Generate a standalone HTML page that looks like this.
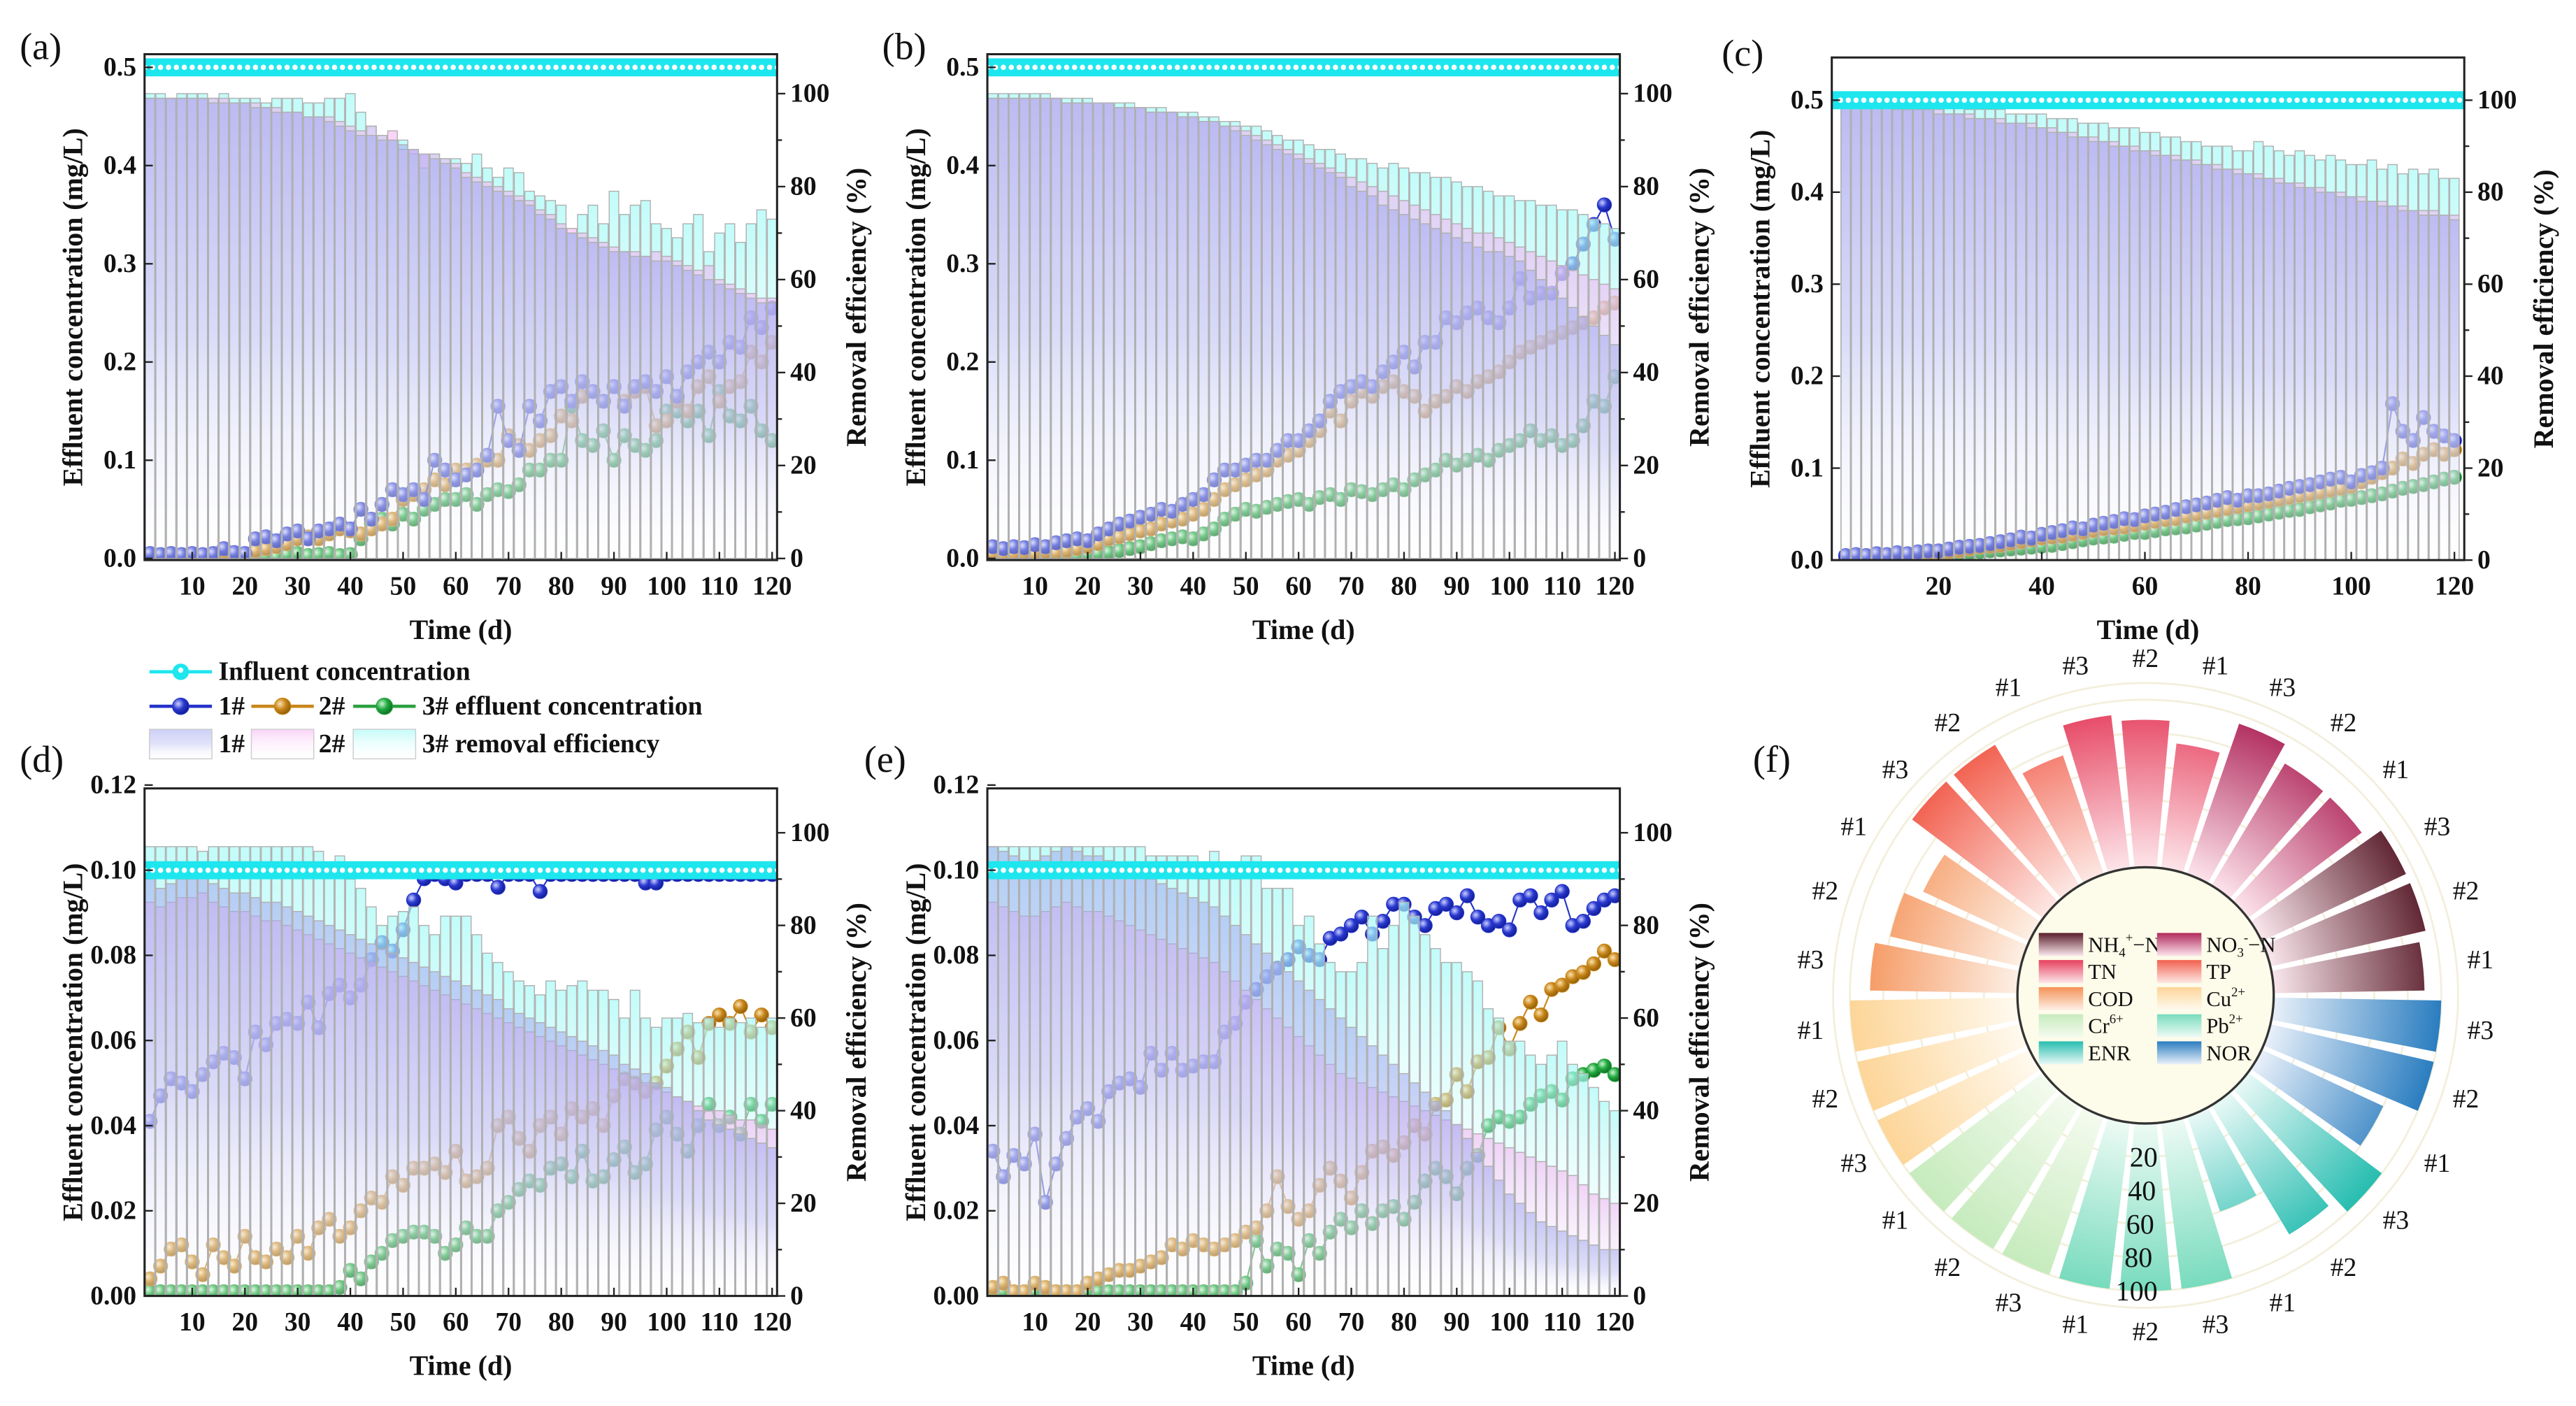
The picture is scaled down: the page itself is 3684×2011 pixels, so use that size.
<!DOCTYPE html>
<html><head><meta charset="utf-8">
<style>
html,body{margin:0;padding:0;background:#fff;}
svg{display:block;}
text{font-family:"Liberation Serif","DejaVu Serif",serif;}
</style></head>
<body>
<svg id="fig" xmlns="http://www.w3.org/2000/svg" width="3684" height="2011" viewBox="0 0 1568 856" preserveAspectRatio="none">
<defs>
<linearGradient id="gBlue" x1="0" y1="0" x2="0" y2="1"><stop offset="0" stop-color="#a2a8f0" stop-opacity="0.55"/><stop offset="0.5" stop-color="#b4b8f2" stop-opacity="0.4"/><stop offset="1" stop-color="#ffffff" stop-opacity="0.1"/></linearGradient>
<linearGradient id="gPink" x1="0" y1="0" x2="0" y2="1"><stop offset="0" stop-color="#f4a8f0" stop-opacity="0.5"/><stop offset="1" stop-color="#ffffff" stop-opacity="0.1"/></linearGradient>
<linearGradient id="gCyan" x1="0" y1="0" x2="0" y2="1"><stop offset="0" stop-color="#a8faf6" stop-opacity="0.7"/><stop offset="1" stop-color="#ffffff" stop-opacity="0.15"/></linearGradient>
<radialGradient id="pBlue" cx="0.35" cy="0.35" r="0.7"><stop offset="0" stop-color="#ccd0ff"/><stop offset="0.5" stop-color="#2a3ad0"/><stop offset="1" stop-color="#101a90"/></radialGradient>
<radialGradient id="pOrange" cx="0.35" cy="0.35" r="0.7"><stop offset="0" stop-color="#fbe3b0"/><stop offset="0.5" stop-color="#c8861a"/><stop offset="1" stop-color="#8a5a08"/></radialGradient>
<radialGradient id="pGreen" cx="0.35" cy="0.35" r="0.7"><stop offset="0" stop-color="#c8f5cf"/><stop offset="0.5" stop-color="#1fa83e"/><stop offset="1" stop-color="#0d6a22"/></radialGradient>
</defs>
<g id="root"></g>
</svg>
<script>
// ---- days (categories) ----
const days = [2,4,6,8,10,12,14,16,18,20,22,24,26,28,30,32,34,36,38,40,42,44,46,48,50,52,54,56,58,60,62,64,66,68,70,72,74,76,78,80,82,84,86,88,90,92,94,96,98,100,102,104,106,108,110,112,114,116,118,120];

// ---- panel (a) ----
const aRe1 = [99,99,99,99,99,99,98,98,98,98,97,97,96,96,96,95,95,94,93,92,91,91,90,90,89,88,87,86,85,84,82,81,80,79,78,77,76,74,73,71,70,69,68,67,66,66,65,65,64,64,63,62,61,60,59,58,57,56,55,55];
const aRe2 = [99,99,99,99,99,99,99,99,98,98,98,97,97,96,96,95,95,95,94,93,92,93,91,92,88,88,87,87,86,85,83,82,81,80,79,78,77,75,74,72,71,70,69,68,67,66,66,65,66,65,64,63,62,63,60,59,58,57,56,56];
const aRe3 = [100,100,99,100,100,100,99,100,99,99,99,98,99,99,99,98,98,99,99,100,96,93,91,90,90,87,84,87,86,86,85,87,84,82,84,83,79,78,77,76,70,74,76,72,79,74,76,77,72,71,69,72,74,66,70,72,68,72,75,73];
const aEf1 = [0.005,0.004,0.005,0.004,0.005,0.004,0.005,0.01,0.006,0.005,0.02,0.022,0.018,0.025,0.028,0.02,0.028,0.03,0.035,0.03,0.05,0.04,0.055,0.07,0.065,0.07,0.06,0.1,0.09,0.08,0.085,0.09,0.105,0.155,0.12,0.11,0.155,0.14,0.17,0.175,0.16,0.18,0.17,0.16,0.175,0.155,0.175,0.18,0.17,0.185,0.165,0.19,0.2,0.21,0.2,0.22,0.215,0.245,0.235,0.255];
const aEf2 = [0.003,0.003,0.004,0.003,0.004,0.003,0.004,0.005,0.004,0.004,0.008,0.01,0.012,0.015,0.02,0.022,0.02,0.025,0.03,0.028,0.025,0.03,0.035,0.04,0.06,0.065,0.07,0.08,0.075,0.09,0.09,0.095,0.1,0.1,0.125,0.115,0.11,0.12,0.125,0.145,0.14,0.165,0.17,0.16,0.175,0.16,0.17,0.175,0.135,0.14,0.16,0.15,0.175,0.185,0.16,0.175,0.18,0.21,0.2,0.22];
const aEf3 = [0.001,0.001,0.002,0.001,0.002,0.001,0.002,0.001,0.002,0.001,0.002,0.003,0.002,0.004,0.005,0.003,0.004,0.005,0.003,0.004,0.02,0.035,0.04,0.035,0.045,0.04,0.05,0.055,0.06,0.06,0.065,0.055,0.065,0.07,0.068,0.075,0.09,0.09,0.1,0.1,0.155,0.12,0.115,0.13,0.1,0.125,0.115,0.11,0.12,0.15,0.15,0.14,0.15,0.125,0.17,0.145,0.14,0.155,0.13,0.12];

// ---- panel (b) ----
const bRe1 = [99,99,99,99,99,99,99,98,98,98,98,98,97,97,97,96,96,96,95,95,94,94,93,92,91,90,89,88,87,86,85,84,83,82,80,79,78,76,75,74,73,72,71,70,69,68,67,66,66,65,64,62,60,58,56,54,52,50,48,46];
const bRe2 = [99,99,99,99,99,99,99,98,98,98,98,98,97,97,97,96,96,96,95,95,94,94,93,93,92,91,90,89,88,87,86,85,84,83,82,81,80,79,78,77,76,75,74,73,72,71,70,70,69,68,67,66,65,64,63,62,61,60,59,58];
const bRe3 = [100,100,100,100,100,100,99,99,99,99,98,98,98,98,97,97,97,96,96,96,95,95,94,94,93,93,92,91,90,90,89,88,88,87,86,86,85,84,85,84,83,83,82,82,81,80,80,79,78,78,77,77,76,76,75,75,74,73,72,71];
const bEf1 = [0.012,0.01,0.012,0.011,0.014,0.012,0.016,0.018,0.02,0.018,0.025,0.03,0.035,0.038,0.042,0.045,0.05,0.048,0.055,0.06,0.065,0.08,0.09,0.09,0.095,0.1,0.1,0.11,0.12,0.12,0.13,0.14,0.16,0.17,0.175,0.18,0.175,0.19,0.2,0.21,0.195,0.22,0.22,0.245,0.24,0.25,0.255,0.245,0.24,0.255,0.285,0.265,0.27,0.27,0.29,0.3,0.32,0.34,0.36,0.325];
const bEf2 = [0.005,0.004,0.005,0.006,0.005,0.007,0.006,0.008,0.01,0.012,0.015,0.02,0.022,0.025,0.028,0.03,0.035,0.038,0.04,0.045,0.05,0.06,0.07,0.075,0.08,0.085,0.09,0.1,0.105,0.11,0.12,0.13,0.15,0.14,0.16,0.17,0.165,0.175,0.18,0.17,0.165,0.15,0.16,0.165,0.175,0.17,0.18,0.185,0.19,0.2,0.21,0.215,0.22,0.225,0.23,0.235,0.24,0.245,0.255,0.26];
const bEf3 = [0.002,0.002,0.003,0.002,0.003,0.002,0.003,0.004,0.003,0.004,0.005,0.006,0.008,0.01,0.012,0.015,0.018,0.02,0.022,0.02,0.025,0.03,0.04,0.045,0.05,0.048,0.052,0.055,0.058,0.06,0.055,0.062,0.065,0.06,0.07,0.068,0.065,0.07,0.075,0.07,0.08,0.085,0.09,0.1,0.095,0.1,0.105,0.1,0.11,0.115,0.12,0.13,0.12,0.125,0.115,0.12,0.135,0.16,0.155,0.185];

// ---- panel (c) ----
const cRe1 = [99,99,99,99,99,98,98,98,98,97,97,97,96,96,96,95,95,95,94,94,93,93,92,92,91,91,90,90,89,89,88,88,87,87,86,86,85,85,84,84,83,83,82,82,81,81,80,80,79,79,78,78,77,77,76,76,75,75,75,74];
const cRe2 = [100,100,99,99,99,99,98,98,98,98,97,97,97,96,96,96,95,95,95,94,94,93,93,92,92,91,91,90,90,89,89,88,88,87,87,86,86,85,85,84,84,83,83,82,82,81,81,80,80,79,79,78,78,77,77,76,76,76,75,75];
const cRe3 = [100,100,100,100,100,100,99,99,99,99,99,99,98,98,98,98,97,97,97,97,96,96,96,95,95,95,94,94,94,93,93,92,92,91,91,90,90,90,89,89,91,90,89,88,89,88,87,88,87,86,86,87,85,86,84,85,84,85,83,83];
const cEf1 = [0.005,0.006,0.005,0.007,0.006,0.008,0.007,0.009,0.01,0.01,0.012,0.014,0.015,0.016,0.018,0.02,0.022,0.025,0.024,0.028,0.03,0.032,0.035,0.034,0.038,0.04,0.042,0.045,0.044,0.048,0.05,0.052,0.055,0.058,0.06,0.062,0.065,0.068,0.065,0.07,0.07,0.072,0.075,0.078,0.08,0.082,0.085,0.088,0.09,0.085,0.092,0.095,0.1,0.17,0.14,0.13,0.155,0.14,0.135,0.13];
const cEf2 = [0.002,0.003,0.002,0.004,0.003,0.005,0.004,0.006,0.007,0.008,0.009,0.01,0.012,0.014,0.015,0.016,0.018,0.02,0.022,0.024,0.025,0.026,0.028,0.03,0.032,0.034,0.035,0.036,0.038,0.04,0.042,0.044,0.045,0.048,0.05,0.052,0.054,0.056,0.058,0.06,0.062,0.064,0.066,0.068,0.07,0.072,0.074,0.076,0.078,0.08,0.085,0.09,0.095,0.1,0.11,0.105,0.115,0.12,0.115,0.12];
const cEf3 = [0.001,0.002,0.001,0.002,0.002,0.003,0.003,0.004,0.004,0.005,0.006,0.007,0.008,0.009,0.01,0.011,0.012,0.013,0.014,0.015,0.016,0.018,0.02,0.022,0.024,0.025,0.026,0.028,0.03,0.03,0.032,0.034,0.035,0.036,0.038,0.04,0.042,0.044,0.045,0.046,0.048,0.05,0.052,0.054,0.055,0.058,0.06,0.062,0.065,0.066,0.068,0.07,0.072,0.075,0.078,0.08,0.082,0.085,0.088,0.09];

// ---- panel (d) ----
const dRe1 = [90,88,89,90,90,91,89,88,87,87,86,85,85,84,83,82,81,80,79,78,77,76,75,74,73,72,71,70,69,68,67,66,65,64,62,61,60,59,58,57,56,55,54,53,52,50,49,48,46,45,43,42,40,38,37,36,35,34,33,32];
const dRe2 = [85,84,85,86,86,87,85,84,83,83,82,81,81,80,79,78,77,76,75,74,73,72,71,70,69,68,67,66,65,64,63,62,61,60,59,58,57,56,55,54,53,52,51,50,49,48,47,46,45,44,43,42,41,40,40,39,38,38,37,36];
const dRe3 = [97,97,97,97,97,96,97,97,97,97,97,97,97,97,97,97,96,93,95,90,88,84,80,82,83,84,80,78,82,82,82,78,74,72,70,68,67,65,68,66,67,68,66,66,64,60,66,60,58,60,60,61,59,60,58,60,59,60,58,60];
const dEf1 = [0.041,0.047,0.051,0.05,0.048,0.052,0.055,0.057,0.056,0.051,0.062,0.059,0.064,0.065,0.064,0.069,0.063,0.071,0.073,0.07,0.073,0.079,0.083,0.081,0.086,0.093,0.098,0.099,0.098,0.097,0.099,0.099,0.099,0.096,0.099,0.099,0.099,0.095,0.099,0.099,0.099,0.099,0.099,0.099,0.099,0.099,0.099,0.097,0.097,0.099,0.099,0.099,0.099,0.099,0.099,0.099,0.099,0.099,0.099,0.099];
const dEf2 = [0.004,0.007,0.011,0.012,0.008,0.005,0.012,0.009,0.007,0.014,0.009,0.008,0.011,0.009,0.014,0.01,0.016,0.018,0.014,0.016,0.02,0.023,0.022,0.028,0.026,0.03,0.03,0.031,0.029,0.034,0.027,0.028,0.03,0.04,0.042,0.037,0.034,0.04,0.042,0.038,0.044,0.042,0.044,0.04,0.047,0.051,0.05,0.048,0.05,0.054,0.058,0.062,0.056,0.064,0.066,0.064,0.068,0.062,0.066,0.063];
const dEf3 = [0.001,0.001,0.001,0.001,0.001,0.001,0.001,0.001,0.001,0.001,0.001,0.001,0.001,0.001,0.001,0.001,0.001,0.001,0.002,0.006,0.004,0.008,0.01,0.013,0.014,0.015,0.015,0.014,0.01,0.012,0.016,0.014,0.014,0.02,0.022,0.025,0.027,0.026,0.03,0.031,0.028,0.034,0.027,0.028,0.032,0.035,0.029,0.031,0.039,0.042,0.038,0.034,0.04,0.045,0.04,0.042,0.038,0.045,0.041,0.045];

// ---- panel (e) ----
const eRe1 = [97,96,95,94,94,95,96,97,96,95,95,94,93,92,91,90,89,88,87,86,85,84,82,80,78,76,74,72,70,68,66,64,62,60,58,56,54,52,50,48,46,44,42,40,37,34,31,28,25,22,20,18,16,15,14,13,12,11,10,10];
const eRe2 = [85,84,83,82,82,83,84,85,84,83,83,82,81,80,79,78,77,76,75,74,73,72,70,68,66,64,62,60,58,56,54,52,50,48,47,46,45,44,43,42,41,40,39,38,37,36,35,34,33,32,31,30,29,28,27,26,24,22,21,20];
const eRe3 = [97,97,97,97,97,97,97,97,97,97,97,97,97,97,97,95,95,95,95,95,90,96,92,90,95,95,88,88,88,80,82,76,72,70,70,72,82,75,80,85,82,78,75,72,72,70,68,62,60,55,55,52,50,52,55,50,48,45,42,40];
const eEf1 = [0.034,0.028,0.033,0.031,0.038,0.022,0.031,0.037,0.042,0.044,0.041,0.048,0.05,0.051,0.049,0.057,0.053,0.057,0.053,0.054,0.055,0.055,0.062,0.064,0.069,0.072,0.075,0.077,0.079,0.082,0.08,0.079,0.084,0.085,0.087,0.089,0.085,0.088,0.092,0.092,0.089,0.087,0.091,0.092,0.09,0.094,0.089,0.087,0.088,0.086,0.093,0.094,0.09,0.093,0.095,0.087,0.088,0.091,0.093,0.094];
const eEf2 = [0.002,0.003,0.001,0.001,0.003,0.002,0.001,0.001,0.001,0.003,0.004,0.005,0.006,0.006,0.007,0.008,0.009,0.012,0.011,0.013,0.012,0.011,0.012,0.013,0.015,0.016,0.02,0.028,0.021,0.018,0.02,0.026,0.03,0.027,0.023,0.029,0.034,0.035,0.033,0.036,0.04,0.038,0.045,0.046,0.052,0.048,0.055,0.056,0.063,0.058,0.064,0.069,0.066,0.072,0.073,0.075,0.076,0.078,0.081,0.079];
const eEf3 = [0.001,0.001,0.001,0.001,0.001,0.001,0.001,0.001,0.001,0.001,0.001,0.001,0.001,0.001,0.001,0.001,0.001,0.001,0.001,0.001,0.001,0.001,0.001,0.001,0.003,0.013,0.007,0.011,0.01,0.005,0.013,0.01,0.015,0.018,0.016,0.02,0.017,0.02,0.021,0.018,0.022,0.027,0.03,0.028,0.024,0.03,0.033,0.04,0.042,0.041,0.042,0.045,0.047,0.048,0.046,0.051,0.052,0.053,0.054,0.052];

// ---- influent (constant) ----
const inflA = 0.5, inflD = 0.1;

// ---- panel (f) rose ----
const roseCats = ["NH4","NO3","TN","TP","COD","Cu","Cr","Pb","ENR","NOR"];
const roseVals = [[90,95,95],[85,85,95],[75,88,92],[75,98,98],[70,80,88],[100,100,100],[100,100,100],[100,100,100],[60,90,100],[80,100,100]];
const roseTicks = [20,40,60,80,100];

const NS = 'http://www.w3.org/2000/svg';
const root = document.getElementById('root');
const defs = document.querySelector('defs');
function mk(tag, attrs, parent){
  const el = document.createElementNS(NS, tag);
  for (const k in attrs) el.setAttribute(k, attrs[k]);
  (parent||root).appendChild(el);
  return el;
}
function txt(str, attrs, parent){ const t = mk('text', attrs, parent); t.textContent = str; return t; }

function drawPanel(id, cfg, re1, re2, re3, ef1, ef2, ef3, infl){
  const g = mk('g', {});
  
  
  const cp = mk('clipPath', {id:'clip'+id}, defs);
  mk('rect', {x:cfg.fx0, y:cfg.fy0, width:cfg.fx1-cfg.fx0, height:cfg.fy1-cfg.fy0}, cp);
  const plot = mk('g', {'clip-path':'url(#clip'+id+')'}, g);
  const series = [[ef3,'#2aa040','pGreen','3'],[ef2,'#c8861a','pOrange','2'],[ef1,'#2433c8','pBlue','1']];
  series.forEach(s=>{
    const sg = mk('g', {}, plot);
    
    
    const pts = s[0].map((v,i)=>cfg.xd(days[i]).toFixed(2)+','+cfg.yl(v).toFixed(2)).join(' ');
    mk('polyline', {points:pts, fill:'none', stroke:s[1], 'stroke-width':0.9}, sg);
    s[0].forEach((v,i)=>{
      const c = mk('circle', {cx:cfg.xd(days[i]), cy:cfg.yl(v), r:4.3, fill:'url(#'+s[2]+')', stroke:s[1], 'stroke-width':0.5}, sg);
      
      
    });
  });
  const bw = cfg.bw;
  const bars = [[re3,'gCyan','3'],[re2,'gPink','2'],[re1,'gBlue','1']];
  bars.forEach(b=>{
    const bg = mk('g', {}, plot);
    
    
    b[0].forEach((p,i)=>{
      const y = cfg.yr(p);
      const r = mk('rect', {x:cfg.xd(days[i])-bw/2, y:y, width:bw, height:cfg.yr(0)-y, fill:'url(#'+b[1]+')', stroke:'#b0b0b0', 'stroke-width':0.6}, bg);
      
      
    });
  });
  const ig = mk('g', {}, plot);
  
  
  const yi = cfg.yl(infl);
  mk('rect', {x:cfg.fx0, y:yi-5.5, width:cfg.fx1-cfg.fx0, height:11, fill:'#1ee6ee'}, ig);
  for (let d=1; d<=121; d+=1.5){
    mk('circle', {cx:cfg.xd(d), cy:yi, r:1.6, fill:'#ffffff'}, ig);
  }
  const fr = mk('rect', {x:cfg.fx0, y:cfg.fy0, width:cfg.fx1-cfg.fx0, height:cfg.fy1-cfg.fy0, fill:'none', stroke:'#222', 'stroke-width':1.3}, g);
  
  
  const xa = mk('g', {}, g);
  
  
  cfg.xticks.forEach(t=>{
    const x = cfg.xd(t);
    mk('line', {x1:x, x2:x, y1:cfg.fy1, y2:cfg.fy1-5, stroke:'#222', 'stroke-width':1}, xa);
    txt(String(t), {x:x, y:cfg.fy1+21, 'text-anchor':'middle', 'font-size':16, 'font-weight':'bold', fill:'#111'}, xa);
  });
  const ya = mk('g', {}, g);
  
  
  cfg.lticks.forEach(t=>{
    const y = cfg.yl(t);
    mk('line', {x1:cfg.fx0, x2:cfg.fx0+5, y1:y, y2:y, stroke:'#222', 'stroke-width':1}, ya);
    txt(t.toFixed(cfg.ldec), {x:cfg.fx0-5, y:y+5, 'text-anchor':'end', 'font-size':16, 'font-weight':'bold', fill:'#111'}, ya);
  });
  const yb = mk('g', {}, g);
  
  
  [0,20,40,60,80,100].forEach(t=>{
    const y = cfg.yr(t);
    mk('line', {x1:cfg.fx1, x2:cfg.fx1+5, y1:y, y2:y, stroke:'#222', 'stroke-width':1}, yb);
    txt(String(t), {x:cfg.fx1+8, y:y+5, 'font-size':16, 'font-weight':'bold', fill:'#111'}, yb);
  });
  [10,30,50,70,90].forEach(t=>{
    const y = cfg.yr(t);
    mk('line', {x1:cfg.fx1, x2:cfg.fx1+3, y1:y, y2:y, stroke:'#222', 'stroke-width':1}, yb);
  });
  const cx = (cfg.fx0+cfg.fx1)/2, cy = (cfg.fy0+cfg.fy1)/2;
  const xt = txt('Time (d)', {x:cx, y:cfg.fy1+48, 'text-anchor':'middle', 'font-size':17, 'font-weight':'bold', fill:'#111'}, g);
  
  
  const lt = txt('Effluent concentration (mg/L)', {x:0, y:0, 'text-anchor':'middle', 'font-size':17, 'font-weight':'bold', fill:'#111', transform:'translate('+(cfg.fx0-38)+','+cy+') rotate(-90)'}, g);
  
  
  const rt = txt('Removal efficiency (%)', {x:0, y:0, 'text-anchor':'middle', 'font-size':17, 'font-weight':'bold', fill:'#111', transform:'translate('+(cfg.fx1+54)+','+cy+') rotate(-90)'}, g);
  
  
  const pl = txt('('+id+')', {x:cfg.lx, y:cfg.ly, 'font-size':23, fill:'#111'}, g);
  
  
}

function cfgTop(off){ return {fx0:88+off, fx1:473+off, fy0:33, fy1:341, bw:5.8,
  xd:d=>117+off+(d-10)*3.209, yl:v=>340-v*598, yr:p=>340-p*2.83,
  xticks:[10,20,30,40,50,60,70,80,90,100,110,120], lticks:[0,0.1,0.2,0.3,0.4,0.5], ldec:1, lx:12, ly:36}; }
const A = cfgTop(0); A.lx = 12;
const B = cfgTop(513); B.lx = 537;
const C = {fx0:1115, fx1:1500, fy0:35, fy1:341, bw:5.7,
  xd:d=>1180+(d-20)*3.14, yl:v=>341-v*560, yr:p=>341-p*2.8,
  xticks:[20,40,60,80,100,120], lticks:[0,0.1,0.2,0.3,0.4,0.5], ldec:1, lx:1048, ly:40};
function cfgBot(off){ return {fx0:88+off, fx1:473+off, fy0:480, fy1:789, bw:5.8,
  xd:d=>117+off+(d-10)*3.209, yl:v=>789-v*2592, yr:p=>789-p*2.82,
  xticks:[10,20,30,40,50,60,70,80,90,100,110,120], lticks:[0,0.02,0.04,0.06,0.08,0.1,0.12], ldec:2, lx:12, ly:470}; }
const D = cfgBot(0);
const E = cfgBot(513); E.lx = 526;

drawPanel('a', A, aRe1, aRe2, aRe3, aEf1, aEf2, aEf3, inflA);
drawPanel('b', B, bRe1, bRe2, bRe3, bEf1, bEf2, bEf3, inflA);
drawPanel('c', C, cRe1, cRe2, cRe3, cEf1, cEf2, cEf3, inflA);
drawPanel('d', D, dRe1, dRe2, dRe3, dEf1, dEf2, dEf3, inflD);
drawPanel('e', E, eRe1, eRe2, eRe3, eEf1, eEf2, eEf3, inflD);

// ---- legend ----
const lg = mk('g', {});


function lineMark(x0, x1, y, col, grad){
  mk('line', {x1:x0, x2:x1, y1:y, y2:y, stroke:col, 'stroke-width':2}, lg);
  mk('circle', {cx:(x0+x1)/2, cy:y, r:5, fill:grad?('url(#'+grad+')'):col, stroke:col, 'stroke-width':0.5}, lg);
}
const l1 = mk('g', {}, lg);


mk('line', {x1:91, x2:129, y1:409, y2:409, stroke:'#1ee6ee', 'stroke-width':2}, l1);
mk('circle', {cx:110, cy:409, r:5, fill:'#1ee6ee'}, l1);
mk('circle', {cx:110, cy:408, r:1.6, fill:'#fff'}, l1);
txt('Influent concentration', {x:133, y:414, 'font-size':16, 'font-weight':'bold', fill:'#111'}, lg);
lineMark(91,129,430,'#2433c8','pBlue');
txt('1#', {x:133, y:435, 'font-size':16, 'font-weight':'bold', fill:'#111'}, lg);
lineMark(153,191,430,'#c8861a','pOrange');
txt('2#', {x:194, y:435, 'font-size':16, 'font-weight':'bold', fill:'#111'}, lg);
lineMark(215,253,430,'#2aa040','pGreen');
txt('3# effluent concentration', {x:257, y:435, 'font-size':16, 'font-weight':'bold', fill:'#111'}, lg);
[[91,'gBlue','1#',133],[153,'gPink','2#',194],[215,'gCyan','3# removal efficiency',257]].forEach(s=>{
  const r = mk('rect', {x:s[0], y:444, width:38, height:18, fill:'url(#'+s[1]+')', stroke:'#ccc', 'stroke-width':0.6}, lg);
  
  
  txt(s[2], {x:s[3], y:458, 'font-size':16, 'font-weight':'bold', fill:'#111'}, lg);
});

// ---- rose chart (f) ----
const fg = mk('g', {});


const RC = {cx:1306, cy:606, r0:78};
const rr = v => RC.r0 + v*1.02;
const roseOuter = ['#5a1e2c','#b02a5c','#e6405e','#f26150','#f59258','#fdd598','#c6ebbd','#78dbbd','#27bdb0','#2a7dc0'];
const roseInner = ['#fbe8ee','#fde4ec','#fde6ea','#fde8e4','#fdf0e6','#fffaf0','#f4fbef','#eefbf5','#eaf9f7','#eaf1fa'];
roseCats.forEach((c,i)=>{
  const gr = mk('radialGradient', {id:'rg'+i, gradientUnits:'userSpaceOnUse', cx:RC.cx, cy:RC.cy, r:rr(100)}, defs);
  mk('stop', {offset:0.43, 'stop-color':roseInner[i]}, gr);
  mk('stop', {offset:1, 'stop-color':roseOuter[i]}, gr);
});
[...roseTicks, 110].forEach(t=>{
  mk('circle', {cx:RC.cx, cy:RC.cy, r:rr(t), fill:'none', stroke:'#f3efdc', 'stroke-width':1.2}, fg);
});
function P(r,a){ const rad=a*Math.PI/180; return [RC.cx + r*Math.cos(rad), RC.cy - r*Math.sin(rad)]; }
function sector(r0, r1, a0, a1){
  const p1=P(r0,a0), p2=P(r1,a0), p3=P(r1,a1), p4=P(r0,a1);
  return 'M'+p1+' L'+p2+' A'+r1+','+r1+' 0 0 0 '+p3+' L'+p4+' A'+r0+','+r0+' 0 0 1 '+p1+' Z';
}
roseCats.forEach((c,i)=>{
  roseVals[i].forEach((v,j)=>{
    const k = i*3+j;
    const a = 6 + 12*k;
    const p = mk('path', {d:sector(RC.r0, rr(v), a-5, a+5), fill:'url(#rg'+i+')'}, fg);
    
    
    const lp = P(205, a);
    const t = txt('#'+(j+1), {x:lp[0], y:lp[1]+5, 'text-anchor':'middle', 'font-size':16, fill:'#111'}, fg);
    
    
  });
});
roseTicks.forEach((t,i)=>{
  const p = P(rr(t), 267);
  txt(String(t), {x:p[0]+4, y:p[1]+6, 'text-anchor':'middle', 'font-size':17, fill:'#111'}, fg);
});
const ic = mk('circle', {cx:RC.cx, cy:RC.cy, r:RC.r0, fill:'#fdfbe9', stroke:'#333', 'stroke-width':1.4}, fg);


const legItems = [[0,'NH','4','+','−N'],[1,'NO','3','-','−N'],[2,'TN'],[3,'TP'],[4,'COD'],[5,'Cu','','2+'],[6,'Cr','','6+'],[7,'Pb','','2+'],[8,'ENR'],[9,'NOR']];
legItems.forEach((it,n)=>{
  const col = n%2, row = Math.floor(n/2);
  const sx = col ? 1313 : 1241, y = 575 + row*16.5;
  const lgx = mk('linearGradient', {id:'lg'+n, x1:0, y1:0, x2:0, y2:1}, defs);
  mk('stop', {offset:0, 'stop-color':roseOuter[it[0]]}, lgx);
  mk('stop', {offset:1, 'stop-color':roseInner[it[0]]}, lgx);
  const sw = mk('rect', {x:sx, y:y-7, width:27, height:14, fill:'url(#lg'+n+')'}, fg);
  
  
  const t = mk('text', {x:sx+30, y:y+4.5, 'font-size':13, fill:'#111'}, fg);
  
  
  const t1 = mk('tspan', {}, t); t1.textContent = it[1];
  if (it.length > 2){
    if (it[2]){ const s = mk('tspan', {'font-size':8, dy:3}, t); s.textContent = it[2]; }
    const s2 = mk('tspan', {'font-size':8, dy: it[2] ? -9 : -6}, t); s2.textContent = it[3];
    if (it[4]){ const s3 = mk('tspan', {dy:6}, t); s3.textContent = it[4]; }
  }
});
const fl = txt('(f)', {x:1067, y:470, 'font-size':23, fill:'#111'});


</script>
</body></html>
